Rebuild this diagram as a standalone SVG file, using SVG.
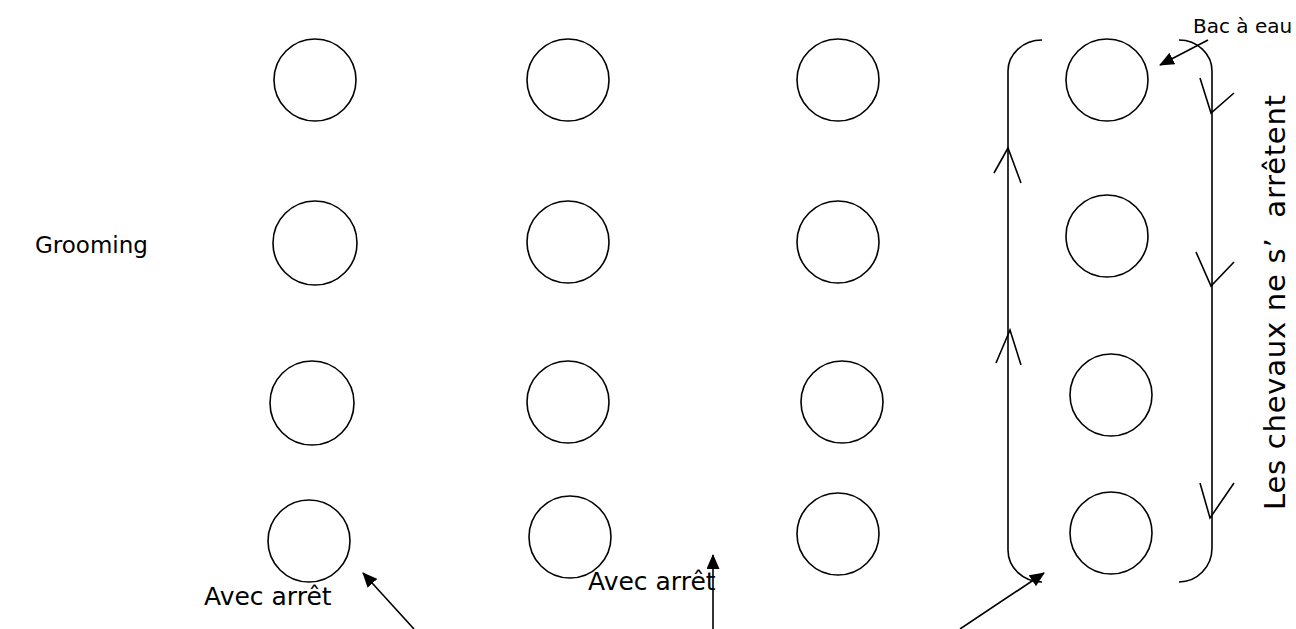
<svg xmlns="http://www.w3.org/2000/svg" width="1296" height="629" viewBox="0 0 1296 629">
<style>
.c{fill:none;stroke:#000;stroke-width:1.6}
.l{fill:none;stroke:#000;stroke-width:1.6}
.t{font-family:"DejaVu Sans","Liberation Sans",sans-serif;fill:#000}
</style>
<defs>
<marker id="ah" viewBox="0 0 15 13" refX="14" refY="6.5" markerWidth="15" markerHeight="13" markerUnits="userSpaceOnUse" orient="auto">
<path d="M0,0 L15,6.5 L0,13 Z" fill="#000"/>
</marker>
</defs>
<rect width="1296" height="629" fill="#fff"/>
<g id="horses">
<g id="h11"><circle class="c" cx="315" cy="80" r="41"/></g>
<g id="h12"><circle class="c" cx="315" cy="243" r="42"/></g>
<g id="h13"><circle class="c" cx="312" cy="403" r="42"/></g>
<g id="h14"><circle class="c" cx="309" cy="541" r="41"/></g>
<g id="h21"><circle class="c" cx="568" cy="80" r="41"/></g>
<g id="h22"><circle class="c" cx="568" cy="242" r="41"/></g>
<g id="h23"><circle class="c" cx="568" cy="402" r="41"/></g>
<g id="h24"><circle class="c" cx="570" cy="537" r="41"/></g>
<g id="h31"><circle class="c" cx="838" cy="80" r="41"/></g>
<g id="h32"><circle class="c" cx="838" cy="242" r="41"/></g>
<g id="h33"><circle class="c" cx="842" cy="402" r="41"/></g>
<g id="h34"><circle class="c" cx="838" cy="534" r="41"/></g>
<g id="h41"><circle class="c" cx="1107" cy="80" r="41"/></g>
<g id="h42"><circle class="c" cx="1107" cy="236" r="41"/></g>
<g id="h43"><circle class="c" cx="1111" cy="395" r="41"/></g>
<g id="h44"><circle class="c" cx="1111" cy="533" r="41"/></g>
</g>
<g id="circuit">
<path class="l" d="M1042,40 A34,31 0 0 0 1008,71 L1008,550 A34,32 0 0 0 1042,582"/>
<path class="l" d="M1179,40 A33,31 0 0 1 1212,71 L1212,548 A33,34 0 0 1 1179,582"/>
<polyline class="l" points="994,173 1008,148 1021,183"/>
<polyline class="l" points="996,363 1010,330 1021,365"/>
<polyline class="l" points="1200,78 1211,113 1234,93"/>
<polyline class="l" points="1196,252 1211,286 1234,262"/>
<polyline class="l" points="1200,483 1210,518 1234,483"/>
</g>
<g id="connectors">
<line class="l" x1="414" y1="629" x2="363" y2="573" marker-end="url(#ah)"/>
<line class="l" x1="713" y1="629" x2="713" y2="555" marker-end="url(#ah)"/>
<line class="l" x1="960" y1="629" x2="1044" y2="573" marker-end="url(#ah)"/>
<line class="l" x1="1208" y1="40" x2="1160" y2="65" marker-end="url(#ah)"/>
</g>
<g id="labels">
<text class="t" x="35" y="253" font-size="23">Grooming</text>
<text class="t" x="204" y="605" font-size="25">Avec arrêt</text>
<text class="t" x="588" y="590" font-size="25">Avec arrêt</text>
<text class="t" x="1193" y="33" font-size="20">Bac à eau</text>
<text class="t" transform="translate(1285,510) rotate(-90)" x="0" y="0" font-size="29" textLength="415" lengthAdjust="spacing" style="white-space:pre">Les chevaux ne s’  arrêtent</text>
</g>
</svg>
